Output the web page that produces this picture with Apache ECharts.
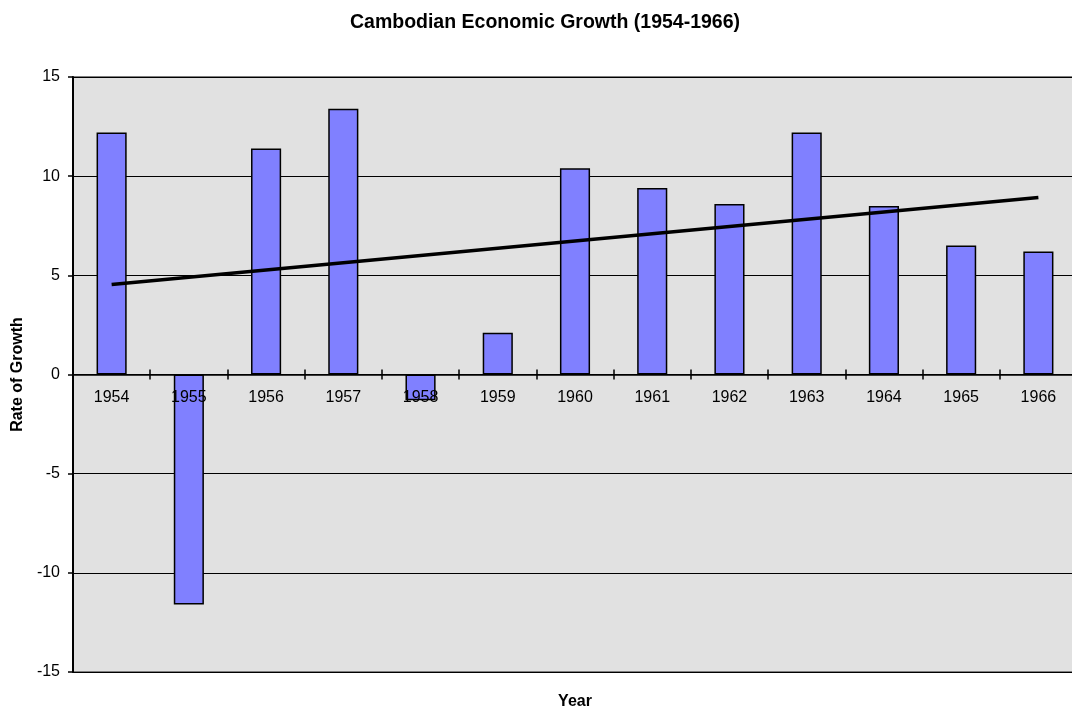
<!DOCTYPE html>
<html>
<head>
    <meta charset="utf-8">
    <title>Cambodian Economic Growth</title>
    <script src="https://cdn.jsdelivr.net/npm/echarts@6/dist/echarts.min.js"></script>
    <style>
        html, body { margin: 0; padding: 0; background: #fff; }
        #main { width: 1072px; height: 711px; }
    </style>
</head>
<body>
<div id="main"></div>
<script type="text/javascript">
    // data
    var years = ['1954', '1955', '1956', '1957', '1958', '1959', '1960',
                 '1961', '1962', '1963', '1964', '1965', '1966'];
    var growth = [12.2, -11.6, 11.4, 13.4, -1.3, 2.1, 10.4,
                  9.4, 8.6, 12.2, 8.5, 6.5, 6.2];
    // linear trend line, only its two ends were read
    var trendStart = 4.54;
    var trendEnd = 8.93;
    var yTicks = [-15, -10, -5, 0, 5, 10, 15];

    var trend = [];
    for (var i = 0; i < years.length; i++) {
        if (i == 0) trend.push(trendStart);
        else if (i == years.length - 1) trend.push(trendEnd);
        else trend.push(null);
    }

    var font = 'Arial, "Liberation Sans", sans-serif';
    var plotH = 595;   // y range is -15..15 so zero is the middle of the plot
    var myChart = echarts.init(document.getElementById('main'));

    myChart.setOption({
        animation: false,
        title: [{
            text: 'Cambodian Economic Growth (1954-1966)',
            left: 540,
            textAlign: 'center',
            top: 8,
            textStyle: { fontFamily: font, fontSize: 19.5, fontWeight: 'bold', color: '#000' }
        }, {
            // x axis title, the axis itself sits on zero
            text: 'Year',
            left: 575,
            textAlign: 'center',
            top: 694,
            padding: 0,
            textStyle: { fontFamily: font, fontSize: 16, fontWeight: 'bold', color: '#000' }
        }],
        grid: {
            left: 73,
            top: 77,
            width: 1004,
            height: plotH,
            outerBoundsMode: 'none',
            containLabel: false,
            show: true,
            backgroundColor: '#e1e1e1',
            borderColor: '#7f7f7f',
            borderWidth: 2
        },
        xAxis: [{
            type: 'category',
            data: years,
            position: 'bottom',
            offset: -plotH / 2,
            z: 10,
            axisLine: { onZero: false, lineStyle: { color: '#000', width: 1.5 } },
            axisTick: { show: true, length: 5, lineStyle: { color: '#000', width: 1.5 } },
            axisLabel: { margin: 15, fontFamily: font, fontSize: 16, color: '#000' },
            splitLine: { show: false }
        }, {
            // same axis again, only for the upper half of the ticks
            type: 'category',
            data: years,
            position: 'top',
            offset: -plotH / 2,
            axisLine: { show: false, onZero: false },
            axisTick: { show: true, length: 5, lineStyle: { color: '#000', width: 1.5 } },
            axisLabel: { show: false }
        }],
        yAxis: {
            type: 'value',
            min: -15,
            max: 15,
            interval: 5,
            name: 'Rate of Growth',
            nameLocation: 'middle',
            nameGap: 45,
            nameTextStyle: { fontFamily: font, fontSize: 16, fontWeight: 'bold', color: '#000' },
            axisLine: { show: true, lineStyle: { color: '#000', width: 2 } },
            axisTick: { show: true, length: 5, lineStyle: { color: '#000', width: 1.5 } },
            axisLabel: {
                margin: 13, fontFamily: font, fontSize: 16, color: '#000',
                formatter: function (v) { return yTicks.indexOf(v) >= 0 ? String(v) : ''; }
            },
            splitLine: { show: true, lineStyle: { color: '#000', width: 1 } }
        },
        series: [{
            name: 'Rate of Growth',
            type: 'bar',
            data: growth,
            barWidth: '39%',
            itemStyle: { color: '#8080ff', borderColor: '#000', borderWidth: 1.5 },
            z: 2
        }, {
            name: 'Trend',
            type: 'line',
            data: trend,
            connectNulls: true,
            symbol: 'none',
            lineStyle: { color: '#000', width: 3.5 },
            z: 5
        }]
    });
</script>
</body>
</html>
